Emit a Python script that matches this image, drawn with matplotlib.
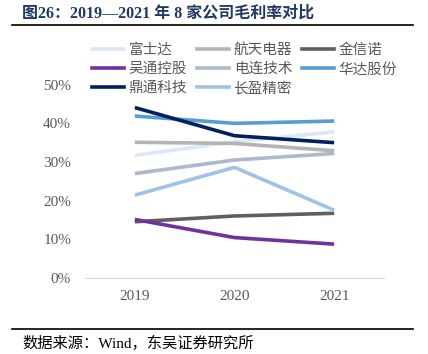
import matplotlib.pyplot as plt
from matplotlib.lines import Line2D

years = ["2019", "2020", "2021"]
companies = ["富士达", "航天电器", "金信诺", "吴通控股", "电连技术", "华达股份", "鼎通科技", "长盈精密"]
fushida = [0.317, 0.352, 0.378]
hangtian = [0.351, 0.348, 0.329]
jinxinnuo = [0.145, 0.160, 0.167]
wutong = [0.151, 0.104, 0.087]
dianlian = [0.270, 0.305, 0.322]
huada = [0.419, 0.400, 0.406]
dingtong = [0.441, 0.368, 0.350]
changying = [0.214, 0.286, 0.175]
colors = ["#DDE8F5", "#B4B4B4", "#5F5F5F", "#7030A0", "#ADB9CA", "#5B9BD5", "#002060", "#9DC3E6"]
series = [fushida, hangtian, jinxinnuo, wutong, dianlian, huada, dingtong, changying]

fonts = ["Liberation Serif", "Noto Sans CJK SC", "DejaVu Sans"]
plt.rcParams["font.family"] = fonts

fig = plt.figure(figsize=(4.28, 3.54), dpi=100)
ax = fig.add_axes([0.1986, 0.2155, 0.6986, 0.545])

x = range(len(years))
for vals, c in zip(series, colors):
    ax.plot(x, vals, color=c, lw=2.6, solid_capstyle="butt")

ax.set_xlim(-0.5, 2.5)
ax.set_ylim(0, 0.5)
ax.set_xticks(list(x))
ax.set_xticklabels(years)
ax.set_yticks([0, 0.1, 0.2, 0.3, 0.4, 0.5])
ax.set_yticklabels(["0%", "10%", "20%", "30%", "40%", "50%"])
ax.tick_params(length=0, labelsize=11, colors="#595959", pad=10)
ax.tick_params(axis="x", pad=9)
for s in ["top", "right", "left"]:
    ax.spines[s].set_visible(False)
ax.spines["bottom"].set_color("#D9D9D9")

# legend, row-major order in 3 columns
handles = [Line2D([], [], color=c, lw=2.6) for c in colors]
order = [0, 3, 6, 1, 4, 7, 2, 5]
leg = fig.legend([handles[i] for i in order], [companies[i] for i in order],
                 ncol=3, loc="upper left", bbox_to_anchor=(0.215, 0.878),
                 frameon=False, fontsize=10.5, handlelength=2.2, handletextpad=0.3,
                 columnspacing=0.7, labelspacing=0.38, borderaxespad=0, borderpad=0)
for t in leg.get_texts():
    t.set_color("#595959")

fig.text(0.052, 0.985, "图26：2019—2021 年 8 家公司毛利率对比", fontsize=11.5,
         fontweight="bold", color="#1F3864", va="top", ha="left")
fig.add_artist(Line2D([0.028, 0.965], [0.929, 0.929], color="black", lw=1.2))
fig.add_artist(Line2D([0.028, 0.965], [0.071, 0.071], color="black", lw=1.2))
fig.text(0.052, 0.03, "数据来源：Wind，东吴证券研究所", fontsize=11, color="black",
         va="center", ha="left")

plt.savefig("out.png", dpi=100)
